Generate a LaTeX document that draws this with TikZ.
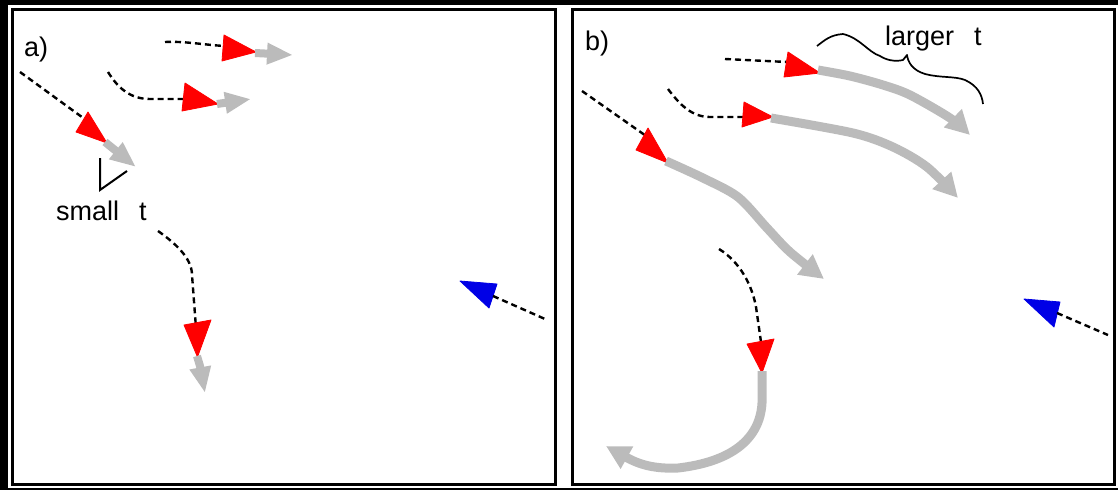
\documentclass[tikz,border=0pt]{standalone}
\usepackage{fontspec}
\setmainfont{Liberation Sans}
\usetikzlibrary{arrows.meta}
\definecolor{trailgray}{RGB}{187,187,187}
\definecolor{headred}{RGB}{255,0,0}
\definecolor{headblue}{RGB}{0,0,230}
\tikzset{
  panelframe/.style={draw=black,line width=3pt},
  pastpath/.style={draw=black,line width=2.4pt,dash pattern=on 6pt off 4pt},
  redhead/.style={fill=headred,draw=headred,line width=0.8pt,line join=round},
  bluehead/.style={fill=headblue,draw=headblue,line width=0.8pt,line join=round},
  shortgray/.style={draw=trailgray,line width=8pt,-{Triangle[length=26pt,width=20pt]}},
  longgray/.style={draw=trailgray,line width=9pt,line join=round,-{Triangle[length=24pt,width=24pt]}},
  marker/.style={draw=black,line width=2pt},
  lbl/.style={font=\fontsize{27}{31}\selectfont,inner sep=0pt,anchor=base west}
}
\begin{document}
\begin{tikzpicture}[x=1pt,y=-1pt]
\useasboundingbox (0,0) rectangle (1118,490);
% outer frame
\fill[black] (0,0) rectangle (1118,5);
\fill[black] (0,0) rectangle (8,490);
\fill[black] (0,488) rectangle (1118,490);
% panels
\draw[panelframe] (12,9.5) rectangle (555.5,484);
\draw[panelframe] (572.5,9.5) rectangle (1114.5,484);

% ===== panel a =====
\node[lbl] (la) at (24,56) {a)};
% arrow a1
\draw[pastpath] (165,42) .. controls (185,41) and (205,45) .. (225,46);
\filldraw[redhead] (224,35) -- (256,52) -- (222,61) -- cycle;
\draw[shortgray] (255,53) -- (293,55);
% arrow a2
\draw[pastpath] (108,72) .. controls (118,88) and (130,99) .. (150,99) -- (186,99);
\filldraw[redhead] (185,83) -- (218,104) -- (182,111) -- cycle;
\draw[shortgray] (217,104) -- (251,99);
% arrow a3
\draw[pastpath] (20,72) -- (86,120);
\filldraw[redhead] (88,112) -- (107,143) -- (76,132) -- cycle;
\draw[shortgray] (105,142) -- (136,167);
% bracket + label
\draw[marker] (100,158) -- (100,190) -- (127,171);
\node[lbl] (ls) at (56,220) {small\hspace{20pt}t};
% arrow a4
\draw[pastpath] (158,231) .. controls (175,243) and (192,258) .. (192,275) -- (196,328);
\filldraw[redhead] (184,325) -- (211,320) -- (197.5,357) -- cycle;
\draw[shortgray] (197,356) -- (200,366) -- (205,393);
% blue a
\filldraw[bluehead] (460,281) -- (497,284) -- (489,308) -- cycle;
\draw[pastpath] (493,296) -- (545,319);

% ===== panel b =====
\node[lbl] (lb) at (585,50) {b)};
% arrow b1
\draw[pastpath] (725,59) -- (787,62);
\filldraw[redhead] (788,52) -- (820,73) -- (784,77) -- cycle;
\draw[longgray] plot[smooth,tension=0.5] coordinates {(818,70) (850,76) (883,85) (910,95) (950,118) (970,135)};
\node[lbl] (ll) at (885,45) {larger\hspace{20pt}t};
\draw[black,line width=1.7pt,line join=round] (817,46) .. controls (825,40) and (830,35) .. (843,34)
  .. controls (860,38) and (868,52) .. (880,56) .. controls (886,60) and (895,62) .. (903,60)
  -- (907,55) .. controls (908,62) and (912,70) .. (925,74) .. controls (940,78) and (955,76) .. (965,80)
  .. controls (978,86) and (982,95) .. (983,104);
% arrow b2
\draw[pastpath] (668,89) .. controls (680,105) and (692,117) .. (710,117) -- (746,117);
\filldraw[redhead] (744,102) -- (773,117) -- (742,127) -- cycle;
\draw[longgray] plot[smooth,tension=0.5] coordinates {(771,118) (853,133) (893,147) (927,167) (958,198)};
% arrow b3
\draw[pastpath] (582,91) -- (649,138);
\filldraw[redhead] (648,128) -- (668,163) -- (636,150) -- cycle;
\draw[longgray] plot[smooth,tension=0.5] coordinates {(666,161) (703,178) (738,197) (767,228) (790,252) (824,279)};
% arrow b4
\draw[pastpath] (719,249) .. controls (740,262) and (752,285) .. (756,307) -- (761,342);
\filldraw[redhead] (747,344) -- (774,339) -- (762,373) -- cycle;
\draw[longgray] (762,371) -- (762,403) .. controls (760,440) and (730,462) .. (678,468)
  .. controls (655,469) and (640,465) .. (606,446);
% blue b
\filldraw[bluehead] (1024,299) -- (1060,302) -- (1054,327) -- cycle;
\draw[pastpath] (1057,313) -- (1108,335);
\end{tikzpicture}
\end{document}
